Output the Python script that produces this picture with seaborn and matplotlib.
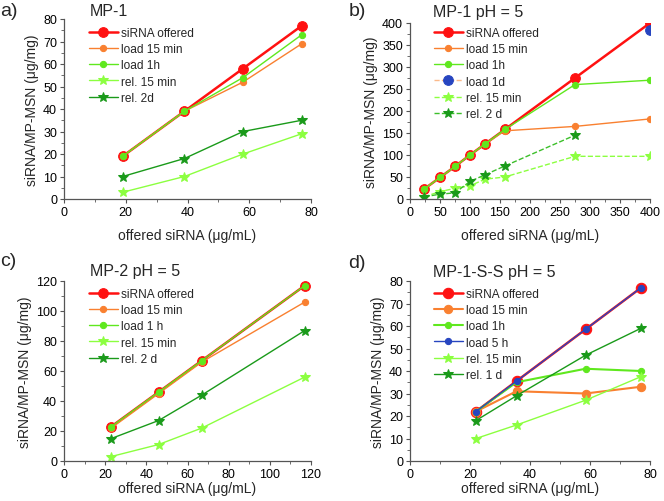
import matplotlib
matplotlib.use("Agg")
import matplotlib.pyplot as plt
import seaborn as sns
from matplotlib.ticker import AutoMinorLocator

sns.set_style("ticks")
plt.rcParams["font.family"] = ["Liberation Sans", "DejaVu Sans"]

# colours
RED = "#ff1111"
ORANGE = "#f98030"
GREEN = "#5fe81e"
LGREEN = "#8cff40"
DGREEN = "#1a9a1a"
BLUE = "#2745c0"
PALE = "#fbb98a"

# panel a) MP-1
a_x = [19, 39, 58, 77]
a_offered = [19, 39, 58, 77]
a_load15 = [19, 39, 52, 69]
a_load1h = [19, 39, 54, 73]
a_rel15 = [3, 10, 20, 29]
a_rel2d = [10, 18, 30, 35]

# panel b) MP-1 pH = 5
b_x = [24, 50, 75, 100, 125, 158, 275, 400]
b_offered = [23, 49, 74, 100, 125, 158, 275, 400]
b_load15 = [23, 49, 74, 100, 125, 155, 165, 182]
b_load1h = [23, 49, 74, 100, 125, 158, 260, 270]
b_x1d = [400]
b_load1d = [385]
b_rel15 = [5, 17, 24, 30, 45, 50, 97, 97]
b_x2d = [24, 50, 75, 100, 125, 158, 275]
b_rel2d = [5, 11, 14, 40, 55, 75, 145]

# panel c) MP-2 pH = 5
c_x = [23, 46, 67, 117]
c_offered = [23, 46, 67, 117]
c_load15 = [22, 45, 66, 106]
c_load1h = [23, 46, 67, 117]
c_rel15 = [3, 11, 22, 56]
c_rel2d = [15, 27, 44, 87]

# panel d) MP-1-S-S pH = 5
d_x = [22, 35.5, 58.5, 77]
d_offered = [22, 35.5, 58.5, 77]
d_load15 = [22, 31, 30, 33]
d_load1h = [22, 35, 41, 40]
d_load5h = [22, 35.5, 58.5, 77]
d_rel15 = [10, 16, 27, 37.5]
d_rel1d = [18, 29, 47, 59]

fig = plt.figure(figsize=(6.64, 5.02), dpi=100)

W, H = 664, 502


def make_ax(l, r, t, b):
    return fig.add_axes([l / W, 1 - b / H, (r - l) / W, (b - t) / H])


def line(ax, x, y, label, color, marker, ms, lw=1.0, ls="-", lcolor=None):
    sns.lineplot(x=x, y=y, ax=ax, color=lcolor or color, marker=marker, markersize=ms,
                 markerfacecolor=color, markeredgecolor=color, linewidth=lw,
                 linestyle=ls, label=label, estimator=None, sort=False)


def style(ax, xlim, xstep, ylim, ystep, leg_xy, xpad):
    ax.set_xlim(*xlim)
    ax.set_ylim(*ylim)
    ax.set_xticks(range(xlim[0], xlim[1] + 1, xstep))
    ax.set_yticks(range(ylim[0], ylim[1] + 1, ystep))
    ax.xaxis.set_minor_locator(AutoMinorLocator(2))
    ax.yaxis.set_minor_locator(AutoMinorLocator(2))
    ax.tick_params(which="major", length=3, width=0.8, labelsize=9, colors="#555555",
                   labelcolor="black", pad=2)
    ax.tick_params(which="minor", length=2, width=0.6, colors="#555555")
    for s in ["top", "right"]:
        ax.spines[s].set_visible(False)
    for s in ["left", "bottom"]:
        ax.spines[s].set_color("#555555")
        ax.spines[s].set_linewidth(0.9)
    ax.set_xlabel("offered siRNA (\u03bcg/mL)", fontsize=10, labelpad=xpad)
    ax.set_ylabel("siRNA/MP-MSN (\u03bcg/mg)", fontsize=10, labelpad=3)
    ax.legend(loc="upper left", bbox_to_anchor=(leg_xy[0] / W, 1 - leg_xy[1] / H),
              bbox_transform=fig.transFigure, frameon=False, fontsize=8.6,
              handlelength=2.4, handletextpad=0.3, labelspacing=0.35,
              borderpad=0, borderaxespad=0)


# a)
ax = make_ax(64, 311, 20, 200)
line(ax, a_x, a_offered, "siRNA offered", RED, "o", 7, lw=1.8)
line(ax, a_x, a_load15, "load 15 min", ORANGE, "o", 4.5)
line(ax, a_x, a_load1h, "load 1h", GREEN, "o", 4.5)
line(ax, a_x, a_rel15, "rel. 15 min", LGREEN, "*", 7)
line(ax, a_x, a_rel2d, "rel. 2d", DGREEN, "*", 7)
style(ax, (0, 80), 20, (0, 80), 10, (89, 28), 7)

# b)
ax = make_ax(410, 650, 24, 200)
line(ax, b_x, b_offered, "siRNA offered", RED, "o", 7, lw=1.8)
line(ax, b_x, b_load15, "load 15 min", ORANGE, "o", 4.5)
line(ax, b_x, b_load1h, "load 1h", GREEN, "o", 4.5)
line(ax, b_x1d, b_load1d, "load 1d", BLUE, "o", 7, ls="--", lcolor=PALE)
line(ax, b_x, b_rel15, "rel. 15 min", LGREEN, "*", 7, ls="--")
line(ax, b_x2d, b_rel2d, "rel. 2 d", DGREEN, "*", 7, ls="--", lcolor="#3cbf2a")
style(ax, (0, 400), 50, (0, 400), 50, (434, 28), 7)

# c)
ax = make_ax(64, 311, 282, 462)
line(ax, c_x, c_offered, "siRNA offered", RED, "o", 7, lw=1.8)
line(ax, c_x, c_load15, "load 15 min", ORANGE, "o", 4.5)
line(ax, c_x, c_load1h, "load 1 h", GREEN, "o", 4.5)
line(ax, c_x, c_rel15, "rel. 15 min", LGREEN, "*", 7)
line(ax, c_x, c_rel2d, "rel. 2 d", DGREEN, "*", 7)
style(ax, (0, 120), 20, (0, 120), 20, (89, 289), 1)

# d)
ax = make_ax(410, 650, 282, 462)
line(ax, d_x, d_offered, "siRNA offered", RED, "o", 7.5, lw=1.8)
line(ax, d_x, d_load15, "load 15 min", ORANGE, "o", 6, lw=1.5)
line(ax, d_x, d_load1h, "load 1h", GREEN, "o", 4.5, lw=1.5)
line(ax, d_x, d_load5h, "load 5 h", BLUE, "o", 4.5)
line(ax, d_x, d_rel15, "rel. 15 min", LGREEN, "*", 7)
line(ax, d_x, d_rel1d, "rel. 1 d", DGREEN, "*", 7)
style(ax, (0, 80), 20, (0, 80), 10, (434, 289), 1)

# panel letters and titles
fig.text(0 / W, 1 - 12 / H, "a)", fontsize=14, va="center")
fig.text(349 / W, 1 - 12 / H, "b)", fontsize=14, va="center")
fig.text(0 / W, 1 - 262 / H, "c)", fontsize=14, va="center")
fig.text(348 / W, 1 - 264 / H, "d)", fontsize=14, va="center")
fig.text(90 / W, 1 - 12 / H, "MP-1", fontsize=11.5, va="center")
fig.text(433 / W, 1 - 12 / H, "MP-1 pH = 5", fontsize=11.5, va="center")
fig.text(90 / W, 1 - 272 / H, "MP-2 pH = 5", fontsize=11.5, va="center")
fig.text(433 / W, 1 - 273 / H, "MP-1-S-S pH = 5", fontsize=11.5, va="center")

fig.savefig("out.png", dpi=100)
